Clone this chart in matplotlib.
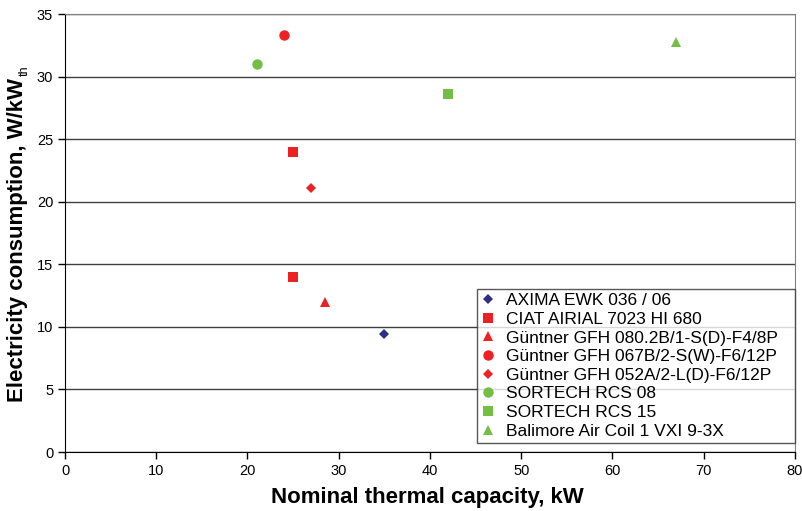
import matplotlib.pyplot as plt

plt.rcParams['font.family'] = ['Liberation Sans', 'DejaVu Sans']

# Data
names = [
    'AXIMA EWK 036 / 06',
    'CIAT AIRIAL 7023 HI 680',
    'Güntner GFH 080.2B/1-S(D)-F4/8P',
    'Güntner GFH 067B/2-S(W)-F6/12P',
    'Güntner GFH 052A/2-L(D)-F6/12P',
    'SORTECH RCS 08',
    'SORTECH RCS 15',
    'Balimore Air Coil 1 VXI 9-3X',
]
capacity = [[35], [25, 25], [28.5], [24], [27], [21], [42], [67]]
consumption = [[9.4], [24, 14], [12], [33.3], [21.1], [31], [28.6], [32.8]]
markers = ['D', 's', '^', 'o', 'D', 'o', 's', '^']
colors = ['#2B2F86', '#ED2024', '#ED2024', '#ED2024', '#ED2024',
          '#72BF44', '#72BF44', '#72BF44']
sizes = [5, 7, 7.5, 7.5, 5, 7.5, 7, 7.5]

fig = plt.figure(figsize=(8.03, 5.11), dpi=100)
ax = fig.add_axes([65 / 803, 1 - 452 / 511, 730 / 803, 438 / 511])

for name, x, y, m, c, s in zip(names, capacity, consumption, markers, colors, sizes):
    ax.plot(x, y, linestyle='none', marker=m, color=c, markersize=s,
            markeredgewidth=0, label=name)

ax.set_xlim(0, 80)
ax.set_ylim(0, 35)
ax.set_xticks(range(0, 81, 10))
ax.set_yticks(range(0, 36, 5))
ax.yaxis.grid(True, color='#404040', linewidth=1)
ax.set_axisbelow(True)
ax.tick_params(labelsize=10.5, length=5, width=1, color='black')

for side in ['top', 'right']:
    ax.spines[side].set_color('#808080')
for side in ['left', 'bottom']:
    ax.spines[side].set_color('black')

fig.text(427 / 803, 1 - 498 / 511, 'Nominal thermal capacity, kW',
         fontsize=16, fontweight='bold', ha='center', va='center')
fig.text(18 / 803, 1 - 240 / 511, 'Electricity consumption, W/kW', rotation=90,
         fontsize=16, fontweight='bold', ha='center', va='center')
fig.text(25 / 803, 1 - 71 / 511, 'th', rotation=90, fontsize=9,
         ha='center', va='center')

leg = ax.legend(loc='lower left', bbox_to_anchor=(0.5644, 0.0205, 0.4356, 0.3),
                mode='expand', fontsize=12.5,
                frameon=True, fancybox=False, handlelength=0.8, handletextpad=0.6,
                labelspacing=0.2, borderpad=0.25, borderaxespad=0)
leg.get_frame().set_edgecolor('#303030')
leg.get_frame().set_linewidth(1)

fig.savefig('out.png', dpi=100)
